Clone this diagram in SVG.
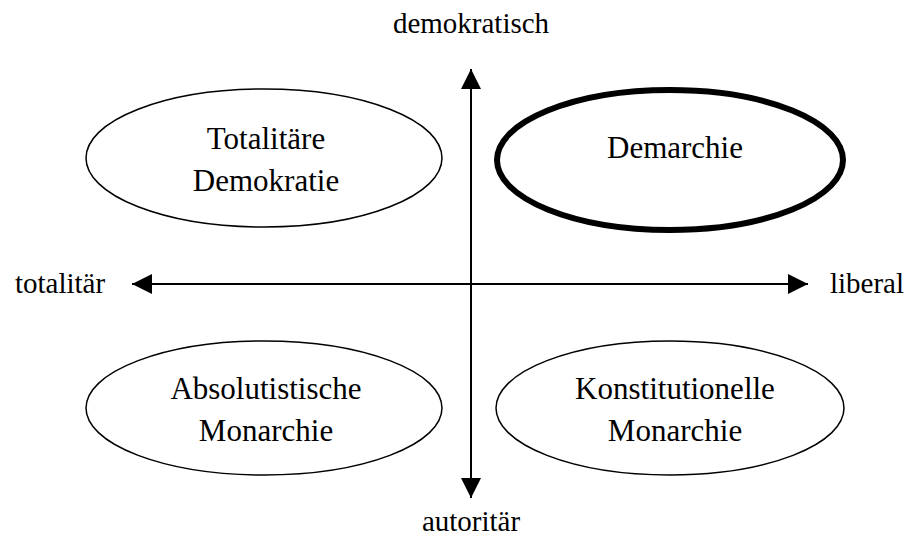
<svg xmlns="http://www.w3.org/2000/svg" width="909" height="543" viewBox="0 0 909 543">
<style>
text{font-family:"Liberation Serif","Times New Roman",serif;font-size:29px;fill:#000;text-anchor:middle}
.n text{font-size:31px}
.n ellipse{fill:#fff;stroke:#000;stroke-width:1.5}
#demarchie ellipse{stroke-width:6}
.ax{stroke:#000;stroke-width:2;fill:none}
</style>
<defs>
<marker id="ah" viewBox="0 0 20 20" refX="20" refY="10" markerWidth="20" markerHeight="20" markerUnits="userSpaceOnUse" orient="auto-start-reverse">
<path d="M0,0 L20,10 L0,20 Z" fill="#000"/>
</marker>
</defs>
<rect width="909" height="543" fill="#fff"/>
<g id="connectors">
<line class="ax" x1="471" y1="69" x2="471" y2="498" marker-start="url(#ah)" marker-end="url(#ah)"/>
<line class="ax" x1="132" y1="284" x2="808" y2="284" marker-start="url(#ah)" marker-end="url(#ah)"/>
</g>
<g id="totalitaere-demokratie" class="n">
<ellipse cx="264" cy="158" rx="178" ry="69"/>
<text x="266" y="149">Totalitäre</text>
<text x="266" y="191">Demokratie</text>
</g>
<g id="demarchie" class="n">
<ellipse cx="670" cy="160" rx="173" ry="70"/>
<text x="675" y="158">Demarchie</text>
</g>
<g id="absolutistische-monarchie" class="n">
<ellipse cx="264" cy="408" rx="178" ry="67"/>
<text x="266" y="399">Absolutistische</text>
<text x="266" y="441">Monarchie</text>
</g>
<g id="konstitutionelle-monarchie" class="n">
<ellipse cx="670" cy="408" rx="174" ry="67"/>
<text x="675" y="399">Konstitutionelle</text>
<text x="675" y="441">Monarchie</text>
</g>
<g id="labels">
<text x="471" y="33">demokratisch</text>
<text x="60" y="293">totalitär</text>
<text x="867" y="293">liberal</text>
<text x="471" y="531">autoritär</text>
</g>
</svg>
